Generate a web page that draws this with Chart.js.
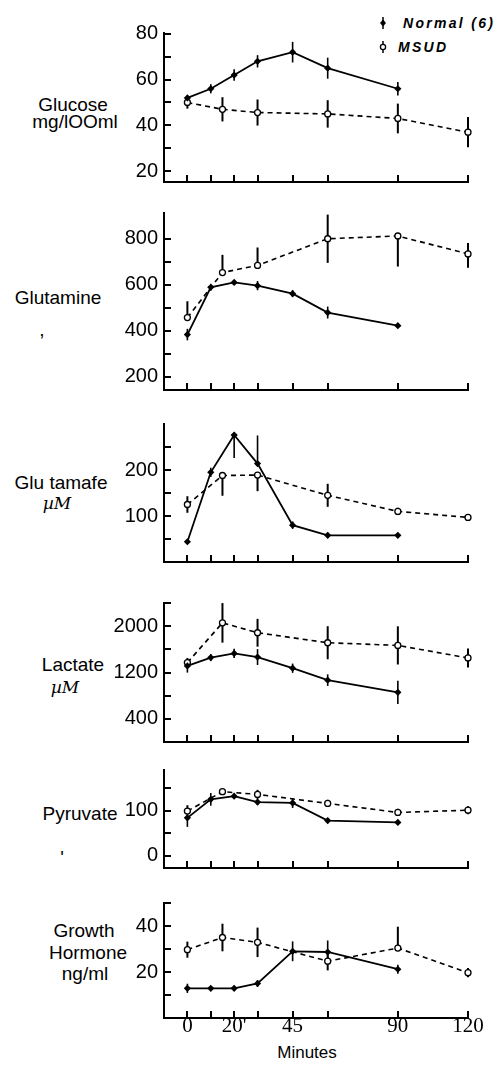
<!DOCTYPE html>
<html>
<head>
<meta charset="utf-8">
<script src="https://cdn.jsdelivr.net/npm/chart.js@4"></script>
<style>
  body { margin: 0; background: #fff; width: 497px; height: 1065px; position: relative; overflow: hidden;
         font-family: "Liberation Sans", Arial, sans-serif; color: #000; }
  canvas { position: absolute; left: 0; }
  .t { position: absolute; font-size: 19px; line-height: 19px; white-space: nowrap; transform: translateX(-50%); }
  .um { font-family: "DejaVu Serif", serif; font-style: italic; font-size: 17px; }
  .leg { position: absolute; font-size: 14px; line-height: 14px; font-style: italic; font-weight: bold; letter-spacing: 2.3px; white-space: nowrap; }
  svg { position: absolute; left: 0; top: 0; }
</style>
</head>
<body>
<svg width="497" height="70">
  <line x1="383" y1="17" x2="383" y2="29" stroke="#000" stroke-width="1.5"/>
  <polygon points="383,19.5 386,23 383,26.5 380,23" fill="#000"/>
  <line x1="383" y1="41" x2="383" y2="53" stroke="#000" stroke-width="1.5"/>
  <circle cx="383" cy="47" r="2.6" fill="#fff" stroke="#000" stroke-width="1.3"/>
</svg>
<div class="leg" style="left:403px;top:16px">Normal (6)</div>
<div class="leg" style="left:398px;top:40px">MSUD</div>

<div class="t" style="left:73px;top:95px">Glucose</div>
<div class="t" style="left:75px;top:112px">mg/lOOml</div>
<div class="t" style="left:58px;top:288px">Glutamine</div>
<div class="t" style="left:42px;top:320px">,</div>
<div class="t" style="left:61px;top:473px">Glu tamafe</div>
<div class="t um" style="left:57px;top:494px">µM</div>
<div class="t" style="left:73px;top:655px">Lactate</div>
<div class="t um" style="left:65px;top:678px">µM</div>
<div class="t" style="left:80px;top:804px">Pyruvate</div>
<div class="t" style="left:62px;top:848px">'</div>
<div class="t" style="left:84px;top:921px">Growth</div>
<div class="t" style="left:88px;top:943px">Hormone</div>
<div class="t" style="left:85px;top:964px">ng/ml</div>
<div class="t" style="left:307px;top:1044px;font-size:17px;line-height:17px">Minutes</div>

<script>
// time points (minutes)
const xTicks = [0, 10, 20, 30, 45, 60, 90, 120];
const xTickLabels = ["0", "", "20'", "", "45", "", "90", "120"];
const normalTimes = [0, 10, 20, 30, 45, 60, 90];
const msudTimes = [0, 15, 30, 60, 90, 120];

// Glucose mg/100ml
const glucoseTicks = [20, 30, 40, 50, 60, 70, 80];
const glucoseLabels = ["20", "", "40", "", "60", "", "80"];
const glucoseNormal = [52, 56, 62, 68, 72, 65, 56];
const glucoseNormalErr = [1, 2, 2.5, 2.7, 4.5, 4.6, 3];
const glucoseMsud = [50, 47, 45.6, 45, 43, 37];
const glucoseMsudErr = [2.7, 5.3, 5.7, 6, 6.5, 6.6];

// Glutamine
const glutamineTicks = [200, 300, 400, 500, 600, 700, 800];
const glutamineLabels = ["200", "", "400", "", "600", "", "800"];
const glutamineNormal = [384, 590, 611, 597, 562, 480, 423];
const glutamineNormalErr = [25, 15, 10, 20, 15, 26, 10];
const glutamineMsud = [458, 654, 685, 801, 813, 735];
const glutamineMsudErrUp = [71, 77, 78, 105, 0, 47];
const glutamineMsudErrDown = [0, 0, 0, 105, 133, 60];

// Glutamate uM
const glutamateTicks = [50, 100, 150, 200, 250];
const glutamateLabels = ["", "100", "", "200", ""];
const glutamateNormal = [44, 195, 276, 214, 80, 58, 58];
const glutamateNormalErrUp = [5, 10, 5, 61, 8, 6, 5];
const glutamateNormalErrDown = [5, 10, 50, 0, 8, 6, 5];
const glutamateMsud = [125, 188, 189, 145, 110, 97];
const glutamateMsudErrUp = [18, 0, 0, 25, 8, 6];
const glutamateMsudErrDown = [18, 44, 35, 25, 8, 6];

// Lactate uM
const lactateTicks = [400, 800, 1200, 1600, 2000, 2400];
const lactateLabels = ["400", "", "1200", "", "2000", ""];
const lactateNormal = [1313, 1457, 1530, 1467, 1274, 1068, 857];
const lactateNormalErr = [115, 60, 80, 137, 80, 100, 200];
const lactateMsud = [1371, 2057, 1886, 1714, 1668, 1451];
const lactateMsudErr = [80, 342, 240, 285, 330, 163];

// Pyruvate
const pyruvateTicks = [0, 50, 100, 150];
const pyruvateLabels = ["0", "", "100", ""];
const pyruvateNormal = [84, 125, 132, 119, 117, 78, 74];
const pyruvateNormalErr = [20, 14, 6, 6, 11, 6, 6];
const pyruvateMsud = [99, 142, 136, 116, 96, 101];
const pyruvateMsudErrUp = [13, 4, 10, 8, 8, 9];
const pyruvateMsudErrDown = [0, 4, 10, 8, 8, 9];

// Growth hormone ng/ml
const ghTicks = [10, 20, 30, 40, 50];
const ghLabels = ["", "20", "", "40", ""];
const ghNormal = [12.9, 12.9, 12.9, 15, 29, 28.7, 21.2];
const ghNormalErr = [2, 1, 1, 1.5, 4.3, 5, 2];
const ghMsud = [29.7, 35, 32.9, 24.7, 30.4, 19.7];
const ghMsudErrUp = [3.5, 6, 6.4, 4, 9.3, 2];
const ghMsudErrDown = [3.5, 6, 6.4, 4, 0, 2];

function pts(times, vals) {
  return times.map((t, i) => ({ x: t, y: vals[i] }));
}

// vertical error bars, drawn under the markers
function errorBars(errs) {
  return {
    id: "errorBars",
    beforeDatasetsDraw(chart) {
      const { ctx, scales: { x, y } } = chart;
      ctx.save();
      ctx.strokeStyle = "#000";
      errs.forEach(e => {
        ctx.lineWidth = e.width;
        e.times.forEach((t, i) => {
          const hi = e.up[i], lo = e.down[i];
          if (!hi && !lo) return;
          const px = x.getPixelForValue(t);
          ctx.beginPath();
          ctx.moveTo(px, y.getPixelForValue(e.vals[i] + hi));
          ctx.lineTo(px, y.getPixelForValue(e.vals[i] - lo));
          ctx.stroke();
        });
      });
      ctx.restore();
    }
  };
}

// short inward tick marks, no grid lines
const inwardGrid = { display: true, drawOnChartArea: false, drawTicks: true, tickLength: -7, color: "#000", lineWidth: 2 };

function makePanel(p) {
  const padTop = 14;
  const showX = !!p.showX;
  const xh = showX ? 40 : 8;
  const cv = document.createElement("canvas");
  cv.width = 497;
  cv.height = (p.bottom - p.top) + padTop + xh;
  cv.style.top = (p.top - padTop) + "px";
  document.body.appendChild(cv);

  const errs = [
    { times: normalTimes, vals: p.normal, up: p.nUp, down: p.nDown, width: 1.6 },
    { times: msudTimes, vals: p.msud, up: p.mUp, down: p.mDown, width: 2 }
  ];

  new Chart(cv.getContext("2d"), {
    type: "line",
    data: {
      datasets: [
        {
          data: pts(normalTimes, p.normal),
          borderColor: "#000", borderWidth: 1.8, tension: 0,
          pointStyle: "rectRot", pointRadius: 3.6,
          pointBackgroundColor: "#000", pointBorderColor: "#000", pointBorderWidth: 0
        },
        {
          data: pts(msudTimes, p.msud),
          borderColor: "#000", borderWidth: 1.6, borderDash: [5, 4], tension: 0,
          pointStyle: "circle", pointRadius: 3,
          pointBackgroundColor: "#fff", pointBorderColor: "#000", pointBorderWidth: 1.3
        }
      ]
    },
    options: {
      responsive: false,
      animation: false,
      devicePixelRatio: 1,
      clip: false,
      layout: { padding: { top: padTop, right: 29, left: 0, bottom: 0 } },
      plugins: { legend: { display: false }, tooltip: { enabled: false } },
      scales: {
        x: {
          type: "linear", min: -10, max: 120,
          afterBuildTicks: s => { s.ticks = xTicks.map(v => ({ value: v })); },
          afterFit: s => { s.height = xh; s.paddingLeft = 0; s.paddingRight = 0; },
          grid: inwardGrid,
          border: { display: true, color: "#000", width: 2 },
          ticks: {
            display: showX, autoSkip: false, maxRotation: 0, padding: 3, color: "#000",
            font: { family: '"Liberation Serif", serif', size: 21 },
            callback: v => xTickLabels[xTicks.indexOf(v)] ?? ""
          }
        },
        y: {
          min: p.min, max: p.max,
          afterBuildTicks: s => { s.ticks = p.ticks.map(v => ({ value: v })); },
          afterFit: s => { s.width = 164; s.paddingTop = 0; s.paddingBottom = 0; },
          grid: inwardGrid,
          border: { display: true, color: "#000", width: 2 },
          ticks: {
            autoSkip: false, padding: 13, color: "#000",
            font: { family: '"Liberation Sans", Arial, sans-serif', size: 20 },
            callback: v => p.labels[p.ticks.indexOf(v)] ?? ""
          }
        }
      }
    },
    plugins: [errorBars(errs)]
  });
}

makePanel({ top: 33, bottom: 182, min: 15.2, max: 80.4, ticks: glucoseTicks, labels: glucoseLabels,
  normal: glucoseNormal, nUp: glucoseNormalErr, nDown: glucoseNormalErr,
  msud: glucoseMsud, mUp: glucoseMsudErr, mDown: glucoseMsudErr });
makePanel({ top: 213, bottom: 390, min: 143, max: 913, ticks: glutamineTicks, labels: glutamineLabels,
  normal: glutamineNormal, nUp: glutamineNormalErr, nDown: glutamineNormalErr,
  msud: glutamineMsud, mUp: glutamineMsudErrUp, mDown: glutamineMsudErrDown });
makePanel({ top: 424, bottom: 562, min: 0, max: 300, ticks: glutamateTicks, labels: glutamateLabels,
  normal: glutamateNormal, nUp: glutamateNormalErrUp, nDown: glutamateNormalErrDown,
  msud: glutamateMsud, mUp: glutamateMsudErrUp, mDown: glutamateMsudErrDown });
makePanel({ top: 603, bottom: 742, min: 0, max: 2400, ticks: lactateTicks, labels: lactateLabels,
  normal: lactateNormal, nUp: lactateNormalErr, nDown: lactateNormalErr,
  msud: lactateMsud, mUp: lactateMsudErr, mDown: lactateMsudErr });
makePanel({ top: 770, bottom: 868, min: -27, max: 190, ticks: pyruvateTicks, labels: pyruvateLabels,
  normal: pyruvateNormal, nUp: pyruvateNormalErr, nDown: pyruvateNormalErr,
  msud: pyruvateMsud, mUp: pyruvateMsudErrUp, mDown: pyruvateMsudErrDown });
makePanel({ top: 903, bottom: 1018, min: 0, max: 50, ticks: ghTicks, labels: ghLabels, showX: true,
  normal: ghNormal, nUp: ghNormalErr, nDown: ghNormalErr,
  msud: ghMsud, mUp: ghMsudErrUp, mDown: ghMsudErrDown });
</script>
</body>
</html>
